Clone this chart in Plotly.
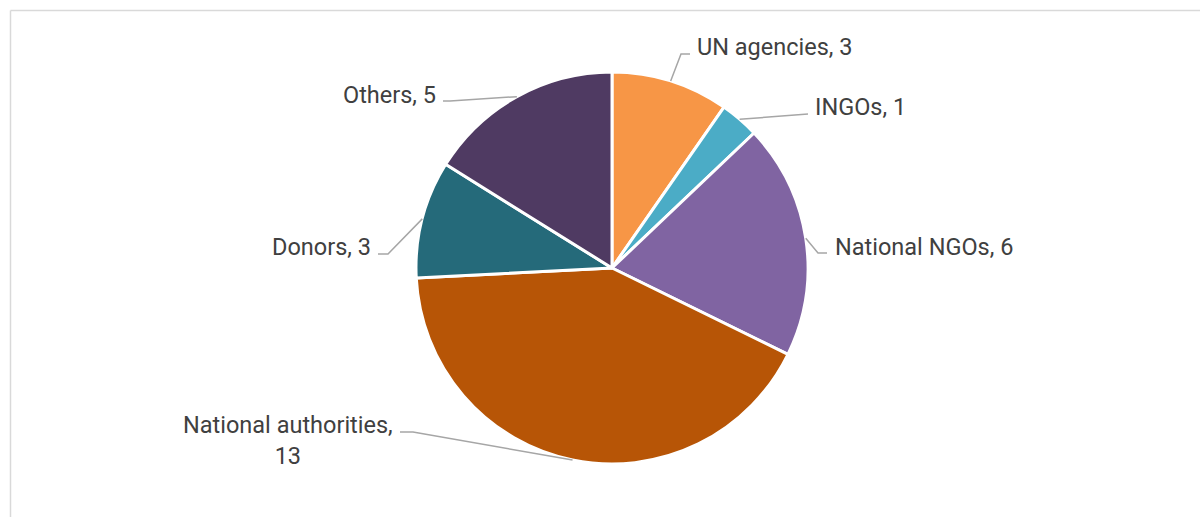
import math
import plotly.graph_objects as go

# ---- data ----
categories = ["UN agencies", "INGOs", "National NGOs", "National authorities", "Donors", "Others"]
values = [3, 1, 6, 13, 3, 5]
label_texts = ["UN agencies, 3", "INGOs, 1", "National NGOs, 6", "National authorities,<br>13", "Donors, 3", "Others, 5"]

# ---- style ----
colors = ["#F79646", "#4BACC6", "#8064A2", "#B75506", "#256A7A", "#4F3A62"]
W, H = 1200, 517
CX, CY, R = 612, 268, 196
FONT = "Roboto, 'Open Sans', sans-serif"
TEXT_COLOR = "#404040"
LINE_COLOR = "#A6A6A6"

# label layout in page pixels: elbow point, end point, text anchor, xanchor
label_layout = [
    dict(elbow=(681, 54), end=(690, 54), text=(695, 47), xanchor="left"),
    dict(elbow=(808, 114), end=(808, 114), text=(813, 107), xanchor="left"),
    dict(elbow=(818, 253), end=(827, 253), text=(833, 247), xanchor="left"),
    dict(elbow=(413, 432), end=(400, 432), text=(288, 440), xanchor="center"),
    dict(elbow=(388, 254), end=(378, 254), text=(373, 247), xanchor="right"),
    dict(elbow=(450, 101), end=(443, 101), text=(438, 95), xanchor="right"),
]


def px(x):
    return x / W


def py(y):
    return 1 - y / H


fig = go.Figure()
fig.add_trace(go.Pie(
    labels=categories,
    values=values,
    sort=False,
    direction="clockwise",
    rotation=0,
    marker=dict(colors=colors, line=dict(color="white", width=3)),
    textinfo="none",
    hoverinfo="label+value",
    showlegend=False,
    domain=dict(x=[px(CX - R), px(CX + R)], y=[py(CY + R), py(CY - R)]),
))

shapes = []
annotations = []
total = sum(values)
cum = 0
for v, txt, lay in zip(values, label_texts, label_layout):
    mid = (cum + v / 2) / total * 2 * math.pi
    cum += v
    ex = CX + R * math.sin(mid)
    ey = CY - R * math.cos(mid)
    (bx, by), (tx, ty) = lay["elbow"], lay["end"]
    path = f"M {px(ex)},{py(ey)} L {px(bx)},{py(by)} L {px(tx)},{py(ty)}"
    shapes.append(dict(type="path", xref="paper", yref="paper", path=path,
                       line=dict(color=LINE_COLOR, width=1.5)))
    annotations.append(dict(
        x=px(lay["text"][0]), y=py(lay["text"][1]), xref="paper", yref="paper",
        text=txt, showarrow=False, xanchor=lay["xanchor"], yanchor="middle",
        align="center", font=dict(family=FONT, size=23.5, color=TEXT_COLOR),
    ))

# chart frame
shapes.append(dict(type="line", xref="paper", yref="paper",
                   x0=px(10.5), y0=py(10.5), x1=1, y1=py(10.5),
                   line=dict(color="#D9D9D9", width=1.5)))
shapes.append(dict(type="line", xref="paper", yref="paper",
                   x0=px(10.5), y0=py(10.5), x1=px(10.5), y1=0,
                   line=dict(color="#D9D9D9", width=1.5)))

fig.update_layout(
    width=W, height=H,
    margin=dict(l=0, r=0, t=0, b=0),
    paper_bgcolor="white",
    plot_bgcolor="white",
    shapes=shapes,
    annotations=annotations,
)

fig.write_html("out.html")
